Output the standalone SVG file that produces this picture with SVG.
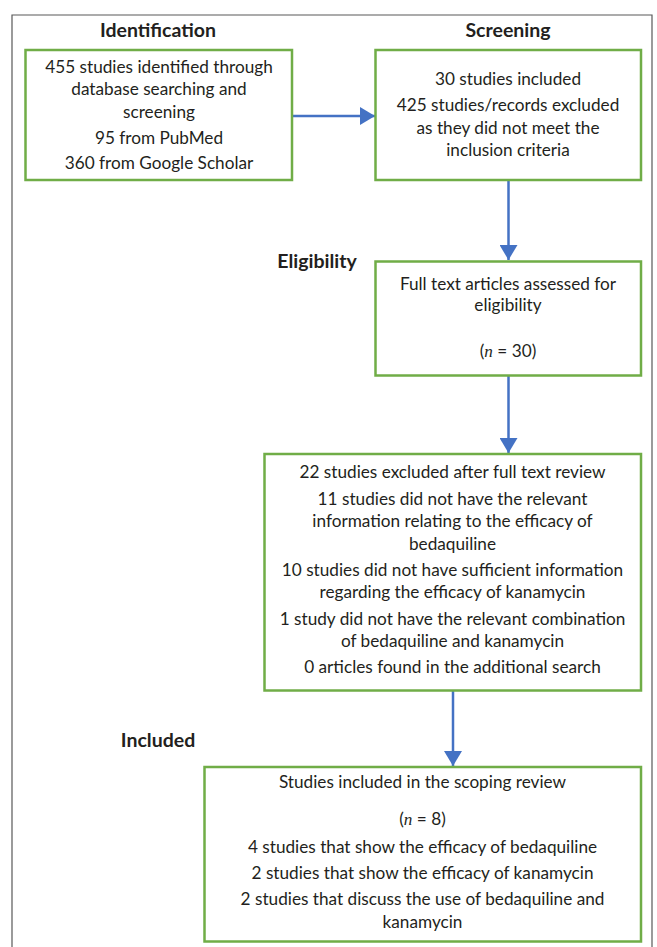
<svg xmlns="http://www.w3.org/2000/svg" width="657" height="947" viewBox="0 0 657 947">
  <defs>
    <marker id="arrow" viewBox="0 0 15 18" refX="15" refY="9" markerWidth="15" markerHeight="18" markerUnits="userSpaceOnUse" orient="auto">
      <path d="M0,0 L15,9 L0,18 Z" fill="#4472C4"/>
    </marker>
  </defs>
  <style>
    .box { fill: #ffffff; stroke: #70AD47; stroke-width: 2.5; }
    .t { font-family: Lato, "Open Sans", "Liberation Sans", sans-serif; font-size: 17.2px; fill: #231F20; text-anchor: middle; }
    .h { font-family: Lato, "Open Sans", "Liberation Sans", sans-serif; font-size: 19.5px; font-weight: bold; fill: #231F20; text-anchor: middle; }
    .n { font-family: "Liberation Serif", serif; font-style: italic; }
    .conn { stroke: #4472C4; stroke-width: 2.5; fill: none; marker-end: url(#arrow); }
  </style>
  <rect x="0" y="0" width="657" height="947" fill="#ffffff"/>
  <path d="M12,955 L12,15 L652,15 L652,955" fill="none" stroke="#595959" stroke-width="1.2"/>

  <text class="h" x="158" y="37">Identification</text>
  <text class="h" x="508" y="37">Screening</text>
  <text class="h" x="317" y="268">Eligibility</text>
  <text class="h" x="158" y="747">Included</text>

  <g id="connectors">
    <line class="conn" x1="292" y1="116" x2="375" y2="116"/>
    <line class="conn" x1="508.5" y1="180" x2="508.5" y2="260"/>
    <line class="conn" x1="508.5" y1="376" x2="508.5" y2="453"/>
    <line class="conn" x1="453" y1="691" x2="453" y2="766"/>
  </g>

  <g id="node-identification">
    <rect class="box" x="25.5" y="50" width="266.5" height="130"/>
    <text class="t" x="159" y="72.5">455 studies identified through</text>
    <text class="t" x="159" y="95">database searching and</text>
    <text class="t" x="159" y="117.5">screening</text>
    <text class="t" x="159" y="143.5">95 from PubMed</text>
    <text class="t" x="159" y="169">360 from Google Scholar</text>
  </g>

  <g id="node-screening">
    <rect class="box" x="375.5" y="50" width="265.5" height="130"/>
    <text class="t" x="508" y="85">30 studies included</text>
    <text class="t" x="508" y="111">425 studies/records excluded</text>
    <text class="t" x="508" y="133.5">as they did not meet the</text>
    <text class="t" x="508" y="156">inclusion criteria</text>
  </g>

  <g id="node-eligibility">
    <rect class="box" x="375.5" y="261.5" width="265.5" height="114"/>
    <text class="t" x="508" y="289.5">Full text articles assessed for</text>
    <text class="t" x="508" y="311">eligibility</text>
    <text class="t" x="508" y="357">(<tspan class="n">n</tspan> = 30)</text>
  </g>

  <g id="node-excluded">
    <rect class="box" x="264.5" y="454" width="376.5" height="236.5"/>
    <text class="t" x="452.5" y="477.5">22 studies excluded after full text review</text>
    <text class="t" x="452.5" y="504.5">11 studies did not have the relevant</text>
    <text class="t" x="452.5" y="527">information relating to the efficacy of</text>
    <text class="t" x="452.5" y="549.5">bedaquiline</text>
    <text class="t" x="452.5" y="575.5">10 studies did not have sufficient information</text>
    <text class="t" x="452.5" y="598">regarding the efficacy of kanamycin</text>
    <text class="t" x="452.5" y="624.5">1 study did not have the relevant combination</text>
    <text class="t" x="452.5" y="646.5">of bedaquiline and kanamycin</text>
    <text class="t" x="452.5" y="672.5">0 articles found in the additional search</text>
  </g>

  <g id="node-included">
    <rect class="box" x="204.5" y="767" width="436.5" height="174.5"/>
    <text class="t" x="422.5" y="787.5">Studies included in the scoping review</text>
    <text class="t" x="422.5" y="825">(<tspan class="n">n</tspan> = 8)</text>
    <text class="t" x="422.5" y="853">4 studies that show the efficacy of bedaquiline</text>
    <text class="t" x="422.5" y="879">2 studies that show the efficacy of kanamycin</text>
    <text class="t" x="422.5" y="905">2 studies that discuss the use of bedaquiline and</text>
    <text class="t" x="422.5" y="927.5">kanamycin</text>
  </g>
</svg>
